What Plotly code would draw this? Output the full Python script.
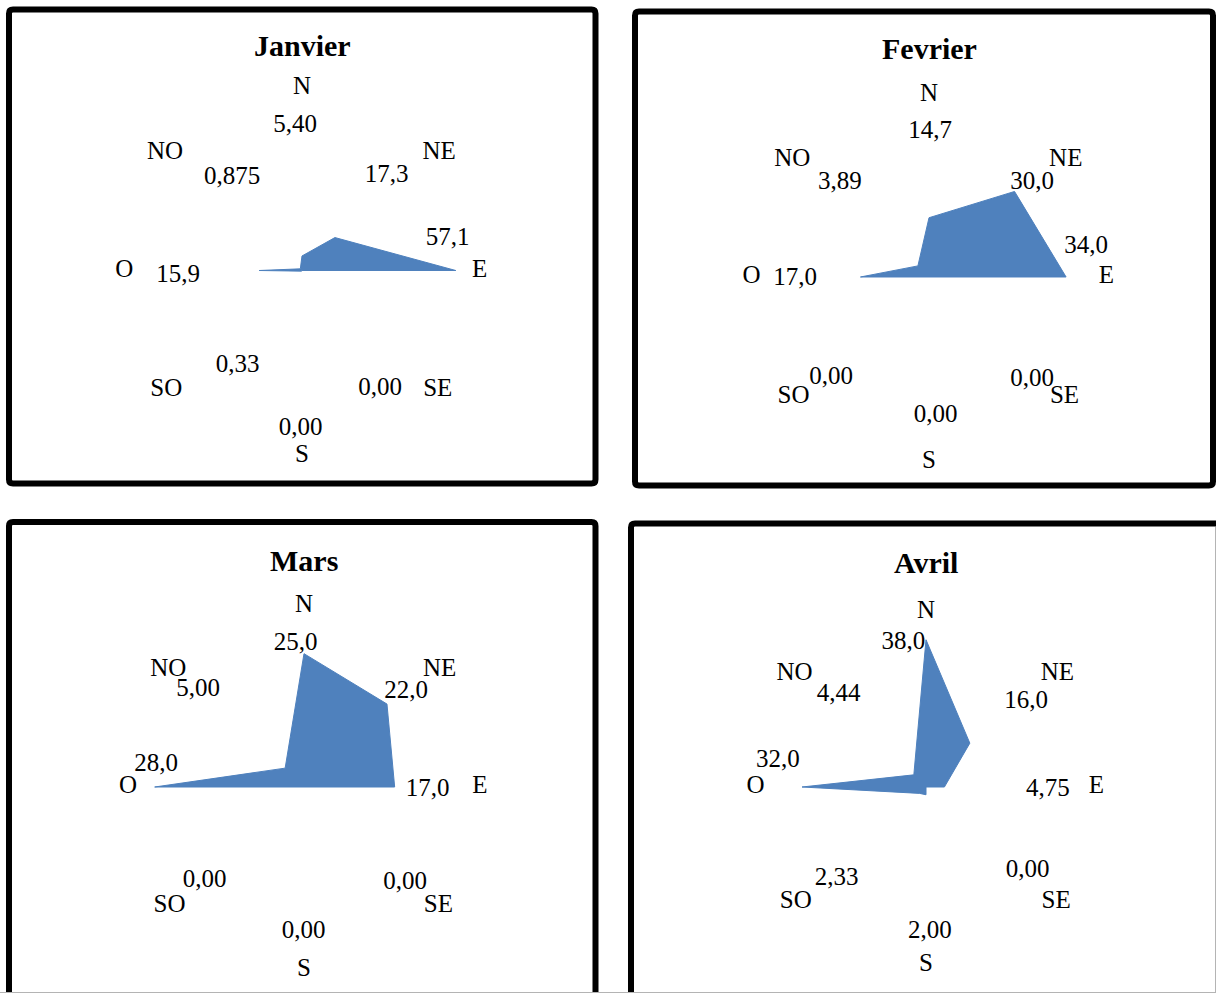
import math
import plotly.graph_objects as go

W, H = 1216, 993

# Wind directions (clockwise from north)
DIRECTIONS = ["N", "NE", "E", "SE", "S", "SO", "O", "NO"]
MONTHS = ["Janvier", "Fevrier", "Mars", "Avril"]

# Frequencies per direction for each month
JANVIER = [5.40, 17.3, 57.1, 0.00, 0.00, 0.33, 15.9, 0.875]
FEVRIER = [14.7, 30.0, 34.0, 0.00, 0.00, 0.00, 17.0, 3.89]
MARS = [25.0, 22.0, 17.0, 0.00, 0.00, 0.00, 28.0, 5.00]
AVRIL = [38.0, 16.0, 4.75, 0.00, 2.00, 2.33, 32.0, 4.44]

# Number of decimals shown in each value label
DEC_JANVIER = [2, 1, 1, 2, 2, 2, 1, 3]
DEC_FEVRIER = [1, 1, 1, 2, 2, 2, 1, 2]
DEC_MARS = [1, 1, 1, 2, 2, 2, 1, 2]
DEC_AVRIL = [1, 1, 2, 2, 2, 2, 1, 2]

SERIES = [JANVIER, FEVRIER, MARS, AVRIL]
DECIMALS = [DEC_JANVIER, DEC_FEVRIER, DEC_MARS, DEC_AVRIL]

# Layout of each radar: centre (px), radius of the value scale (px), scale maximum
CENTERS = [(302, 270.5), (929, 277), (304, 787), (926, 787)]
RADII = [161.6, 161.3, 160, 155]
RMAX = [60, 40, 30, 40]
TITLE_Y = [46, 48, 560, 562]
# the polar area extends past the scale maximum so outer labels stay inside it
EXT = 1.25

# Direction-name placement, as multiples of the scale radius
CAT_FX = [0, 0.848, 1.10, 0.84, 0, -0.84, -1.10, -0.848]
CAT_FY = [-1.13, -0.73, 0, 0.74, 1.145, 0.74, 0, -0.73]

# Value-label placement: pixel offsets from each radar centre
LBL_DX = [
    [-7, 84.5, 145.6, 78, -1.4, -64.5, -124, -70],
    [1, 103, 157, 103, 6.6, -98, -134, -89],
    [-8.3, 102, 123.6, 101, -0.3, -99.4, -148, -106],
    [-22.7, 100, 121.8, 101.6, 3.9, -89.3, -148.2, -87.4],
]
LBL_DY = [
    [-145, -95, -32, 118, 158, 95, 5, -93],
    [-145.5, -94.5, -30, 103, 139, 100.5, 2, -94.5],
    [-143, -95.3, 2.3, 95.7, 144.7, 93.7, -22, -97],
    [-144.3, -85.3, 2.3, 83.7, 144.7, 91.3, -26.3, -92],
]

# Panel frames (px): x0, y0, x1, y1
FRAMES = [
    (9, 9.5, 595.5, 483.5),
    (635, 11.5, 1213, 485.5),
    (9, 522, 595.5, 1015),
    (631, 523.5, 1235, 1015),
]

FONT = "Liberation Serif"
FILL = "#4F81BD"

angles = [i * 45 for i in range(len(DIRECTIONS))]


def px(x, y):
    return x / W, 1 - y / H


def rounded_rect(x0, y0, x1, y1, rad=4):
    def p(x, y):
        a, b = px(x, y)
        return f"{a:.6f},{b:.6f}"
    return " ".join([
        f"M {p(x0 + rad, y0)}",
        f"L {p(x1 - rad, y0)}",
        f"Q {p(x1, y0)} {p(x1, y0 + rad)}",
        f"L {p(x1, y1 - rad)}",
        f"Q {p(x1, y1)} {p(x1 - rad, y1)}",
        f"L {p(x0 + rad, y1)}",
        f"Q {p(x0, y1)} {p(x0, y1 - rad)}",
        f"L {p(x0, y0 + rad)}",
        f"Q {p(x0, y0)} {p(x0 + rad, y0)} Z",
    ])


fig = go.Figure()
layout = dict(
    width=W, height=H,
    margin=dict(l=0, r=0, t=0, b=0),
    paper_bgcolor="white",
    plot_bgcolor="white",
    showlegend=False,
    annotations=[],
    shapes=[],
)

cat_r = [math.hypot(fx, fy) for fx, fy in zip(CAT_FX, CAT_FY)]
cat_t = [math.degrees(math.atan2(fx, -fy)) % 360 for fx, fy in zip(CAT_FX, CAT_FY)]

for k, month in enumerate(MONTHS):
    cx, cy = CENTERS[k]
    R = RADII[k] * EXT
    pid = "polar" if k == 0 else f"polar{k + 1}"

    vals = SERIES[k]
    fig.add_trace(go.Scatterpolar(
        r=vals + [vals[0]], theta=angles + [angles[0]],
        mode="lines", fill="toself", fillcolor=FILL,
        line=dict(color=FILL, width=1),
        hoverinfo="skip", subplot=pid,
    ))

    # value labels
    texts = [f"{v:.{d}f}".replace(".", ",") for v, d in zip(vals, DECIMALS[k])]
    lr = [math.hypot(dx, dy) / RADII[k] * RMAX[k] for dx, dy in zip(LBL_DX[k], LBL_DY[k])]
    lt = [math.degrees(math.atan2(dx, -dy)) % 360 for dx, dy in zip(LBL_DX[k], LBL_DY[k])]
    fig.add_trace(go.Scatterpolar(
        r=lr, theta=lt, text=texts, mode="text",
        textposition="middle center",
        textfont=dict(family=FONT, size=25, color="black"),
        cliponaxis=False, hoverinfo="skip", subplot=pid,
    ))

    # direction names
    fig.add_trace(go.Scatterpolar(
        r=[c * RMAX[k] for c in cat_r], theta=cat_t, text=DIRECTIONS,
        mode="text", textposition="middle center",
        textfont=dict(family=FONT, size=25, color="black"),
        cliponaxis=False, hoverinfo="skip", subplot=pid,
    ))

    layout[pid] = dict(
        domain=dict(x=[(cx - R) / W, (cx + R) / W],
                    y=[1 - (cy + R) / H, 1 - (cy - R) / H]),
        bgcolor="rgba(0,0,0,0)",
        radialaxis=dict(visible=False, range=[0, RMAX[k] * EXT]),
        angularaxis=dict(
            rotation=90, direction="clockwise", thetaunit="degrees",
            tickmode="array", tickvals=angles, ticktext=DIRECTIONS,
            showgrid=False, showline=False, ticks="",
            showticklabels=False,
        ),
    )

    layout["annotations"].append(dict(
        text=f"<b>{month}</b>", x=cx / W, y=1 - TITLE_Y[k] / H,
        xref="paper", yref="paper", xanchor="center", yanchor="middle",
        showarrow=False, font=dict(family=FONT, size=30, color="black"),
    ))

    layout["shapes"].append(dict(
        type="path", xref="paper", yref="paper",
        path=rounded_rect(*FRAMES[k]),
        line=dict(color="black", width=6), fillcolor="rgba(0,0,0,0)",
        layer="above",
    ))

# thin page edge lines
layout["shapes"].append(dict(
    type="line", xref="paper", yref="paper",
    x0=0, x1=1, y0=1 - 992.5 / H, y1=1 - 992.5 / H,
    line=dict(color="#b4b4b4", width=1),
))
layout["shapes"].append(dict(
    type="line", xref="paper", yref="paper",
    x0=1215.5 / W, x1=1215.5 / W, y0=1 - 527 / H, y1=0,
    line=dict(color="#b4b4b4", width=1),
))

fig.update_layout(**layout)
fig.write_html("out.html")
